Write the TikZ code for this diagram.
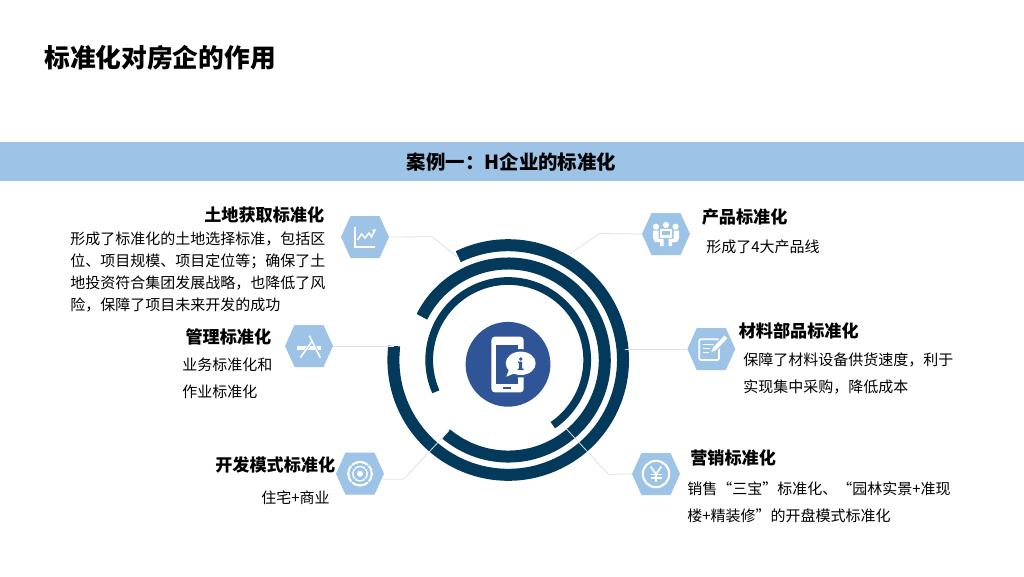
\documentclass[tikz,border=0pt]{standalone}
\usepackage{fontspec}
\setmainfont{Noto Sans CJK SC}
\usetikzlibrary{calc}
\definecolor{bandblue}{HTML}{9DC3E6}
\definecolor{ringblue}{HTML}{033A5B}
\definecolor{discblue}{HTML}{2F5597}
\definecolor{leadgray}{HTML}{E0E2E4}
\tikzset{
  x=0.75pt,y=-0.75pt,
  hexbox/.style={minimum width=36pt,minimum height=31.5pt,inner sep=0pt,outer sep=0pt},
  hexfill/.style={fill=bandblue,draw=none},
  ringthick/.style={draw=ringblue,line width=9pt},
  ringthin/.style={draw=ringblue,line width=5.8pt},
  leader/.style={draw=leadgray,line width=0.6pt},
  head/.style={font=\fontsize{12.85}{16}\selectfont\bfseries,inner sep=0pt,text=black},
  bodyA/.style={font=\fontsize{11.25}{16.7}\selectfont,inner sep=0pt,align=left,anchor=west,text=black},
  bodyB/.style={font=\fontsize{11.25}{20.25}\selectfont,inner sep=0pt,align=left,anchor=west,text=black},
  iconline/.style={draw=white,line width=1.1pt},
}
\newcommand{\hexat}[2]{%
  \node[hexbox] (#1) at (#2) {};
  \fill[hexfill,shift={(#2)}] (-24,0)--(-14.5,-21)--(14.5,-21)--(24,0)--(14.5,21)--(-14.5,21)--cycle;
}
\begin{document}
\begin{tikzpicture}
\useasboundingbox (0,0) rectangle (1024,576);
\fill[white] (0,0) rectangle (1024,576);
\node[anchor=west,inner sep=0pt,font=\fontsize{19.3}{24}\selectfont\bfseries] (title) at (44,58) {标准化对房企的作用};
\fill[bandblue] (0,142) rectangle (1024,181);
\node[inner sep=0pt,font=\fontsize{14.55}{18}\selectfont\bfseries] (banner) at (511.5,162) {案例一：H企业的标准化};

% rings
\begin{scope}[shift={(508.2,360)},y=0.75pt]
  \draw[ringthick] (115.8:114.8) arc[start angle=115.8,end angle=-185,radius=86.1pt] -- (-114.1,14);
  \draw[ringthick] (153.4:96.5) arc[start angle=153.4,end angle=-130,radius=72.4pt];
  \draw[ringthin] (203.7:79) arc[start angle=203.7,end angle=-55.6,radius=59.25pt];
  \coordinate (rA) at (115.8:113);
  \coordinate (rB) at (173.5:115);
  \coordinate (rC) at (60:122);
  \coordinate (rD) at (0:116.8);
  \coordinate (rE) at (-130:92);
  \coordinate (rF) at (-50:84);
\end{scope}

% hexagons
\hexat{hA}{365,237}
\hexat{hB}{309,346}
\hexat{hC}{360,473.7}
\hexat{hD}{666,234}
\hexat{hE}{711.3,349}
\hexat{hF}{656,474}

% connectors
\coordinate (bA) at (432.3,236.7);
\coordinate (bC) at (403.5,479.3);
\coordinate (bD) at (599.3,233.5);
\coordinate (bF) at (608.3,474.2);
\draw[leader] (hA.east) -- (bA) -- (rA);
\draw[leader] (hB.east) -- (rB |- hB.east);
\draw[leader] ($(hC.east)+(-2.5,5.6)$) -- (bC) -- (rE);
\draw[leader] (hD.west) -- (bD) -- (rC);
\draw[leader] (hE.west) -- (rD |- hE.west);
\draw[leader] (hF.west) -- (bF) -- (rF);

% centre disc
\node[circle,fill=discblue,minimum size=63.6pt,inner sep=0pt] (disc) at (508,364.3) {};
\begin{scope}[shift={(disc.center)}]
  \fill[white,rounded corners=2.5pt] (-16.6,-27.6) rectangle (15.7,28);
  \fill[discblue] (-11.6,-19.3) rectangle (10,19.7);
  \fill[discblue] (-5,22.2) rectangle (3.3,24.6);
  \fill[discblue] (12.7,-1) ellipse [x radius=17.5,y radius=14.2];
  \fill[white] (12.7,-1) ellipse [x radius=15,y radius=11.7];
  \fill[white] (1,5) -- (-1.7,12.4) -- (6.5,9) -- cycle;
  \fill[discblue] (12.7,-5.3) circle [radius=1.9];
  \fill[discblue] (10.2,-2.7) -- (14.2,-2.7) -- (14.2,4.4) -- (15.7,4.4) -- (15.7,5.9) -- (9.7,5.9) -- (9.7,4.4) -- (11.2,4.4) -- (11.2,-1.4) -- (10.2,-1.4) -- cycle;
\end{scope}

% chart icon
\begin{scope}[shift={(hA.center)}]
  \draw[iconline,line width=1.2pt] (-10,-10) -- (-10,10) -- (10,10);
  \draw[iconline] (-7.5,3) -- (-3.5,-3) -- (0,1) -- (4,-4) -- (6.5,0) -- (9.5,-6.5);
  \fill[white] (11,-8) -- (6.8,-7) -- (9.8,-4.2) -- cycle;
\end{scope}

% app icon
\begin{scope}[shift={(hB.center)}]
  \fill[white] (-12.3,0) rectangle (12.3,4);
  \draw[draw=bandblue,line width=2pt] (1,-10) -- (11.5,12);
  \draw[draw=bandblue,line width=2pt] (2.7,-4.3) -- (-8.5,11.5);
  \draw[white,line width=1.2pt] (0.3,-10.3) -- (11.4,12);
  \draw[white,line width=1.2pt] (2.7,-4.3) -- (-8.8,11.7);
\end{scope}

% team icon
\begin{scope}[shift={(hD.center)}]
  \fill[white] (-10,-7.3) circle [radius=3.1];
  \fill[white] (0,-9) circle [radius=3.1];
  \fill[white] (9.5,-7.3) circle [radius=3.1];
  \fill[white] (-5.8,-5) rectangle (5.8,3.5);
  \fill[bandblue] (-3.6,-2.6) rectangle (3.6,1.2);
  \fill[white] (-13,-3.5) -- (-7.5,-3.5) -- (-7.5,4.8) -- (-2.5,4.8) -- (-2.5,12) -- (-6,12) -- (-6,8) -- (-11,8) -- (-13,4) -- cycle;
  \fill[white] (13,-3.5) -- (7.5,-3.5) -- (7.5,4.8) -- (2.5,4.8) -- (2.5,12) -- (6,12) -- (6,8) -- (11,8) -- (13,4) -- cycle;
\end{scope}

% form icon
\begin{scope}[shift={(hE.center)}]
  \draw[draw=white,line width=1.3pt,rounded corners=1pt] (-12,-9.7) rectangle (7.7,11);
  \draw[iconline] (-8,-4.5) -- (3,-4.5);
  \draw[iconline] (-8,-0.5) -- (0,-0.5);
  \draw[iconline] (-8,3.5) -- (-2,3.5);
  \draw[draw=bandblue,line width=5pt] (14.5,-12) -- (1,2);
  \draw[draw=white,line width=3pt] (14.5,-12) -- (3,0);
  \fill[white] (4.2,1.2) -- (1.8,-1.2) -- (0,3) -- cycle;
\end{scope}

% target icon
\begin{scope}[shift={(hC.center)}]
  \draw[draw=white,line width=1.6pt] (0,0) circle [radius=11.8];
  \draw[draw=white,line width=1pt] (0,0) circle [radius=7.2];
  \fill[white] (0,0) circle [radius=3];
  \draw[draw=bandblue,line width=0.6pt] (-13,-13) -- (-5,-5) (13,-13) -- (5,-5) (-13,13) -- (-5,5) (13,13) -- (5,5);
\end{scope}

% yen icon
\begin{scope}[shift={(hF.center)}]
  \draw[draw=white,line width=1.6pt] (0,0) circle [radius=13.2];
  \draw[draw=white,line width=1.3pt] (-5.5,-7.5) -- (0,0) -- (5.5,-7.5) (0,0) -- (0,8);
  \draw[draw=white,line width=1pt] (-5.5,0.5) -- (5.5,0.5) (-5.5,4) -- (5.5,4);
\end{scope}

% headings
\node[head,anchor=east] (tA) at (324.5,215) {土地获取标准化};
\node[head,anchor=east] (tB) at (271.5,337) {管理标准化};
\node[head,anchor=east] (tC) at (335.5,465) {开发模式标准化};
\node[head,anchor=west] (tD) at (701.5,217) {产品标准化};
\node[head,anchor=west] (tE) at (738.5,331) {材料部品标准化};
\node[head,anchor=west] (tF) at (690,458) {营销标准化};

% body text
\node[bodyA] (xA) at (70,272) {形成了标准化的土地选择标准，包括区\\位、项目规模、项目定位等；确保了土\\地投资符合集团发展战略，也降低了风\\险，保障了项目未来开发的成功};
\node[bodyB] (xB) at (182,378) {业务标准化和\\作业标准化};
\node[bodyB] (xC) at (261,497.5) {住宅+商业};
\node[bodyB] (xD) at (706,246.5) {形成了4大产品线};
\node[bodyB] (xE) at (743,373) {保障了材料设备供货速度，利于\\实现集中采购，降低成本};
\node[bodyB] (xF) at (687,502) {销售“三宝”标准化、“园林实景+准现\\楼+精装修”的开盘模式标准化};
\end{tikzpicture}
\end{document}
